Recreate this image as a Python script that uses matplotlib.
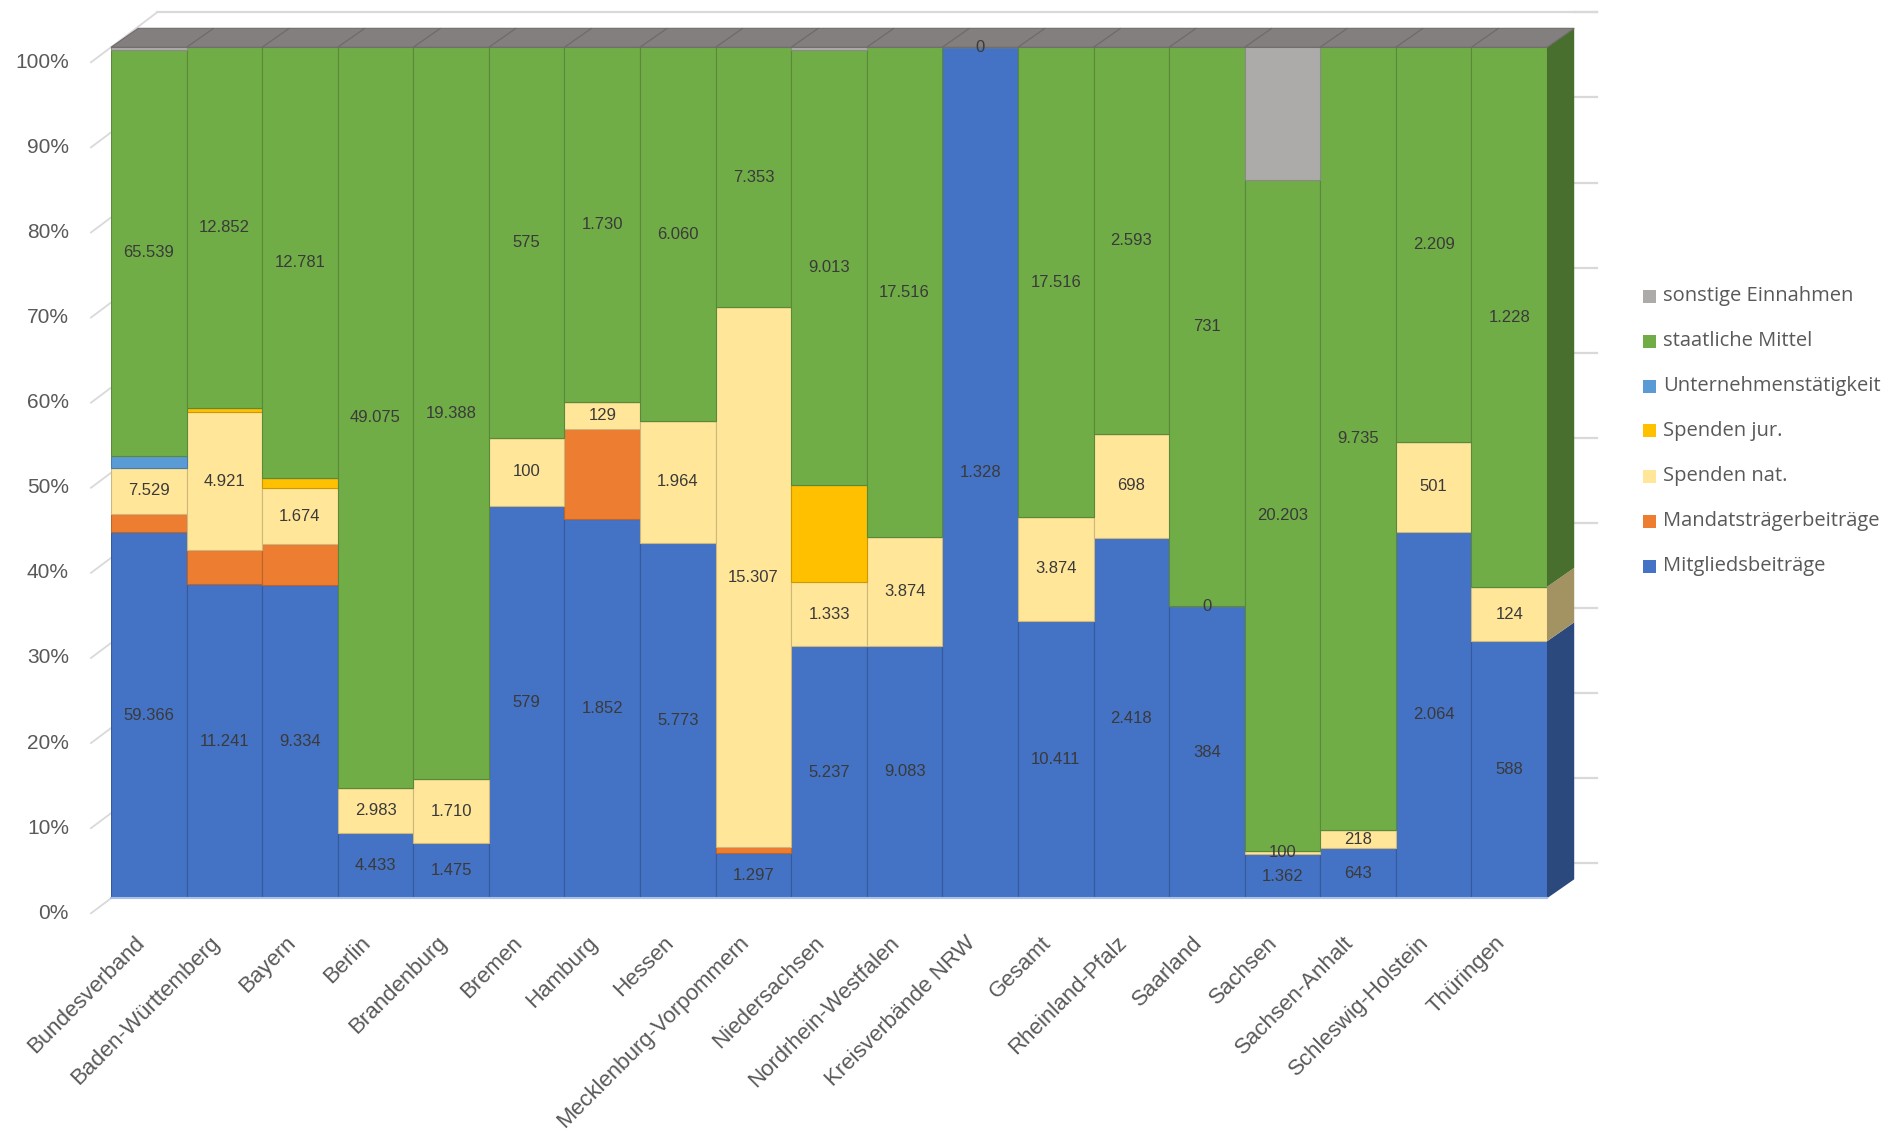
import matplotlib
matplotlib.use("Agg")
import matplotlib.pyplot as plt
from matplotlib.patches import Polygon, Rectangle
import numpy as np

laender = ["Bundesverband", "Baden-Württemberg", "Bayern", "Berlin", "Brandenburg",
           "Bremen", "Hamburg", "Hessen", "Mecklenburg-Vorpommern", "Niedersachsen",
           "Nordrhein-Westfalen", "Kreisverbände NRW", "Gesamt", "Rheinland-Pfalz",
           "Saarland", "Sachsen", "Sachsen-Anhalt", "Schleswig-Holstein", "Thüringen"]

# Anteile in %
mitglied = [43.0, 36.9, 36.8, 7.7, 6.5, 46.1, 44.6, 41.8, 5.3, 29.6, 29.7, 100.0, 32.6, 42.3, 34.3, 5.2, 5.9, 43.1, 30.2]
mandat = [2.2, 4.0, 4.8, 0, 0, 0, 10.5, 0, 0.7, 0, 0, 0, 0, 0, 0, 0, 0, 0, 0]
spenden_nat = [5.4, 16.2, 6.6, 5.3, 7.5, 8.0, 3.2, 14.3, 63.5, 7.6, 12.7, 0, 12.2, 12.3, 0, 0.4, 2.1, 10.5, 6.4]
spenden_jur = [0, 0.5, 1.2, 0, 0, 0, 0, 0, 0, 11.4, 0, 0, 0, 0, 0, 0, 0, 0, 0]
untern = [1.4, 0, 0, 0, 0, 0, 0, 0, 0, 0, 0, 0, 0, 0, 0, 0, 0, 0, 0]
staatl = [47.7, 42.4, 50.6, 87.0, 86.0, 45.9, 41.7, 43.9, 30.5, 51.1, 57.6, 0, 55.2, 45.4, 65.7, 78.8, 92.0, 46.4, 63.4]
sonstige = [0.3, 0, 0, 0, 0, 0, 0, 0, 0, 0.3, 0, 0, 0, 0, 0, 15.6, 0, 0, 0]

# Beschriftungen (Tsd. EUR)
lab_mitglied = ["59.366", "11.241", "9.334", "4.433", "1.475", "579", "1.852", "5.773", "1.297", "5.237",
                "9.083", "1.328", "10.411", "2.418", "384", "1.362", "643", "2.064", "588"]
lab_nat = ["7.529", "4.921", "1.674", "2.983", "1.710", "100", "129", "1.964", "15.307", "1.333",
           "3.874", "", "3.874", "698", "0", "100", "218", "501", "124"]
lab_staatl = ["65.539", "12.852", "12.781", "49.075", "19.388", "575", "1.730", "6.060", "7.353", "9.013",
              "17.516", "0", "17.516", "2.593", "731", "20.203", "9.735", "2.209", "1.228"]

serien = [("Mitgliedsbeiträge", mitglied, "#4472C4", lab_mitglied),
          ("Mandatsträgerbeiträge", mandat, "#ED7D31", None),
          ("Spenden nat.", spenden_nat, "#FFE699", lab_nat),
          ("Spenden jur.", spenden_jur, "#FFC000", None),
          ("Unternehmenstätigkeit", untern, "#5B9BD5", None),
          ("staatliche Mittel", staatl, "#70AD47", lab_staatl),
          ("sonstige Einnahmen", sonstige, "#ADAAAA", None)]

def dunkler(c, f):
    r, g, b = matplotlib.colors.to_rgb(c)
    return (r * f, g * f, b * f)

W, H = 1893, 1134
fig = plt.figure(figsize=(W / 100, H / 100), dpi=100)
ax = fig.add_axes([111 / W, 1 - 898.3 / H, 1436 / W, 851 / H])
ax.set_xlim(-0.5, 18.5)
ax.set_ylim(0, 100)
ax.axis("off")

x = np.arange(len(laender))
n = len(laender)
dx, dy = 0.36, 2.23        # Tiefe der Säulen
wdx, wdy = 0.61, 4.11      # Rückwand
grid = "#D9D9D9"

# Rückwand / Gitternetz
for v in range(0, 101, 10):
    ax.plot([n - 0.5 + dx, n - 0.5 + 0.66], [v + wdy, v + wdy], color=grid, lw=1.6, clip_on=False, zorder=0)
    ax.plot([-0.5 - 0.265, -0.5], [v - 1.76, v], color=grid, lw=1.3, clip_on=False, zorder=0)
    ax.text(-1.056, v - 1.76, f"{v}%", ha="right", va="center", fontsize=15,
            color="#595959", family="Liberation Sans")
ax.plot([-0.5 + wdx, n - 0.5 + 0.66], [100 + wdy, 100 + wdy], color=grid, lw=1.6, clip_on=False, zorder=0)
ax.plot([-0.5, -0.5 + wdx], [100, 100 + wdy], color=grid, lw=1.3, clip_on=False, zorder=0)

bottom = np.zeros(n)
for name, werte, farbe, labs in serien:
    werte = np.array(werte, dtype=float)
    ax.bar(x, werte, width=1.0, bottom=bottom, color=farbe,
           edgecolor=dunkler(farbe, 0.8), linewidth=0.8, zorder=2)
    # Seitenfläche der letzten Säule
    if werte[-1] > 0:
        b0 = bottom[-1]
        b1 = b0 + werte[-1]
        ax.add_patch(Polygon([(n - 0.5, b0), (n - 0.5, b1), (n - 0.5 + dx, b1 + dy), (n - 0.5 + dx, b0 + dy)],
                             closed=True, facecolor=dunkler(farbe, 0.64), edgecolor="none",
                             clip_on=False, zorder=2))
    if labs:
        for i, t in enumerate(labs):
            if t:
                ax.text(i, bottom[i] + werte[i] / 2, t, ha="center", va="center",
                        fontsize=12, color="#3A3A3A", family="Liberation Sans", zorder=5)
    bottom = bottom + werte

# Deckflächen
for i in range(n):
    ax.add_patch(Polygon([(i - 0.5, 100), (i + 0.5, 100), (i + 0.5 + dx, 100 + dy), (i - 0.5 + dx, 100 + dy)],
                         closed=True, facecolor="#837F7F", edgecolor="#6F6B6B", linewidth=0.8,
                         clip_on=False, zorder=3))
ax.plot([-0.5, n - 0.5], [0, 0], color="#A9C0E8", lw=1.5, clip_on=False, zorder=3)

for i, name in enumerate(laender):
    ax.text(i - 0.2, -4.0, name, rotation=45, rotation_mode="anchor", ha="right", va="top",
            fontsize=16, color="#595959", family="Liberation Sans")

# Legende
for k, (name, werte, farbe, labs) in enumerate(reversed(serien)):
    yc = 296 + 45 * k
    fig.patches.append(Rectangle(((1649 - 6.5) / W, 1 - (yc + 6.5) / H), 13 / W, 13 / H,
                                 transform=fig.transFigure, facecolor=farbe, edgecolor="none"))
    fig.text(1663 / W, 1 - yc / H, name, ha="left", va="center", fontsize=14.5,
             color="#595959", family="Open Sans")

fig.savefig("out.png", dpi=100, facecolor="white")
